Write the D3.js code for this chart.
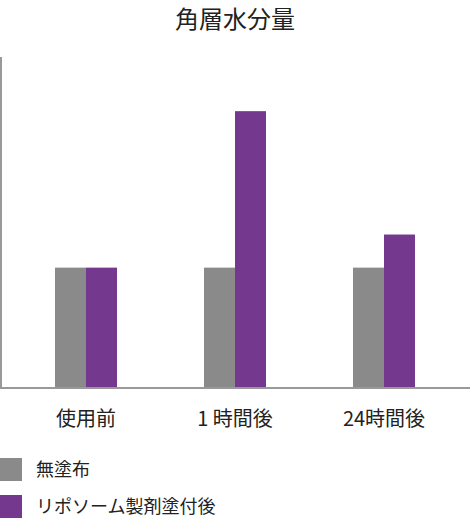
<!DOCTYPE html>
<html>
<head>
<meta charset="utf-8">
<script src="https://cdn.jsdelivr.net/npm/d3@7"></script>
<style>
  body { margin: 0; background: #fff; }
  text { font-family: "Noto Sans CJK JP", sans-serif; fill: #222; }
</style>
</head>
<body>
<div class="chart"></div>
<script>
// 角層水分量 chart
var categories = ["使用前", "1 時間後", "24時間後"];
var seriesNames = ["無塗布", "リポソーム製剤塗付後"];
var noTreatment = [40, 40, 40];
var liposome = [40, 92, 51];
var colors = ["#8a8a8a", "#74398f"];

var svgWidth = 470;
var svgHeight = 518;

var svg = d3.select(".chart")
  .append("svg")
  .attr("width", svgWidth)
  .attr("height", svgHeight);

var data = categories.map(function (c, i) {
  return { cat: c, values: [noTreatment[i], liposome[i]] };
});

// x scales
var x0 = d3.scaleBand()
  .domain(categories)
  .range([1, 469])
  .paddingInner(0.584)
  .paddingOuter(0.3625);

var x1 = d3.scaleBand()
  .domain([0, 1])
  .range([0, x0.bandwidth()]);

var y = d3.scaleLinear()
  .domain([0, 110])
  .range([388, 57]);

// title
svg.append("text")
  .attr("x", 235)
  .attr("y", 28)
  .attr("text-anchor", "middle")
  .style("font-size", "24px")
  .text("角層水分量");

// bars
var groups = svg.selectAll(".grp")
  .data(data)
  .enter()
  .append("g")
  .attr("transform", d => `translate(${x0(d.cat)},0)`);

groups.selectAll("rect")
  .data(d => d.values)
  .enter()
  .append("rect")
  .attr("x", (d, i) => x1(i))
  .attr("y", d => y(d))
  .attr("width", x1.bandwidth())
  .attr("height", d => y(0) - y(d))
  .attr("fill", (d, i) => colors[i]);

// axes
svg.append("line")
  .attr("x1", 1).attr("x2", 1)
  .attr("y1", 57).attr("y2", 389)
  .attr("stroke", "#999")
  .attr("stroke-width", 2);

svg.append("line")
  .attr("x1", 0).attr("x2", 470)
  .attr("y1", y(0)).attr("y2", y(0))
  .attr("stroke", "#999")
  .attr("stroke-width", 2);

// category labels
svg.selectAll(".cat")
  .data(categories)
  .enter()
  .append("text")
  .attr("x", d => x0(d) + x0.bandwidth() / 2)
  .attr("y", 426)
  .attr("text-anchor", "middle")
  .style("font-size", "20px")
  .text(d => d);

// legend
var legend = svg.selectAll(".legend")
  .data(seriesNames)
  .enter()
  .append("g")
  .attr("transform", (d, i) => `translate(0, ${458 + i * 37})`);

legend.append("rect")
  .attr("x", 0)
  .attr("y", 0)
  .attr("width", 22)
  .attr("height", 23)
  .attr("fill", (d, i) => colors[i]);

legend.append("text")
  .attr("x", 36)
  .attr("y", 18)
  .style("font-size", "18px")
  .text(d => d);
</script>
</body>
</html>
